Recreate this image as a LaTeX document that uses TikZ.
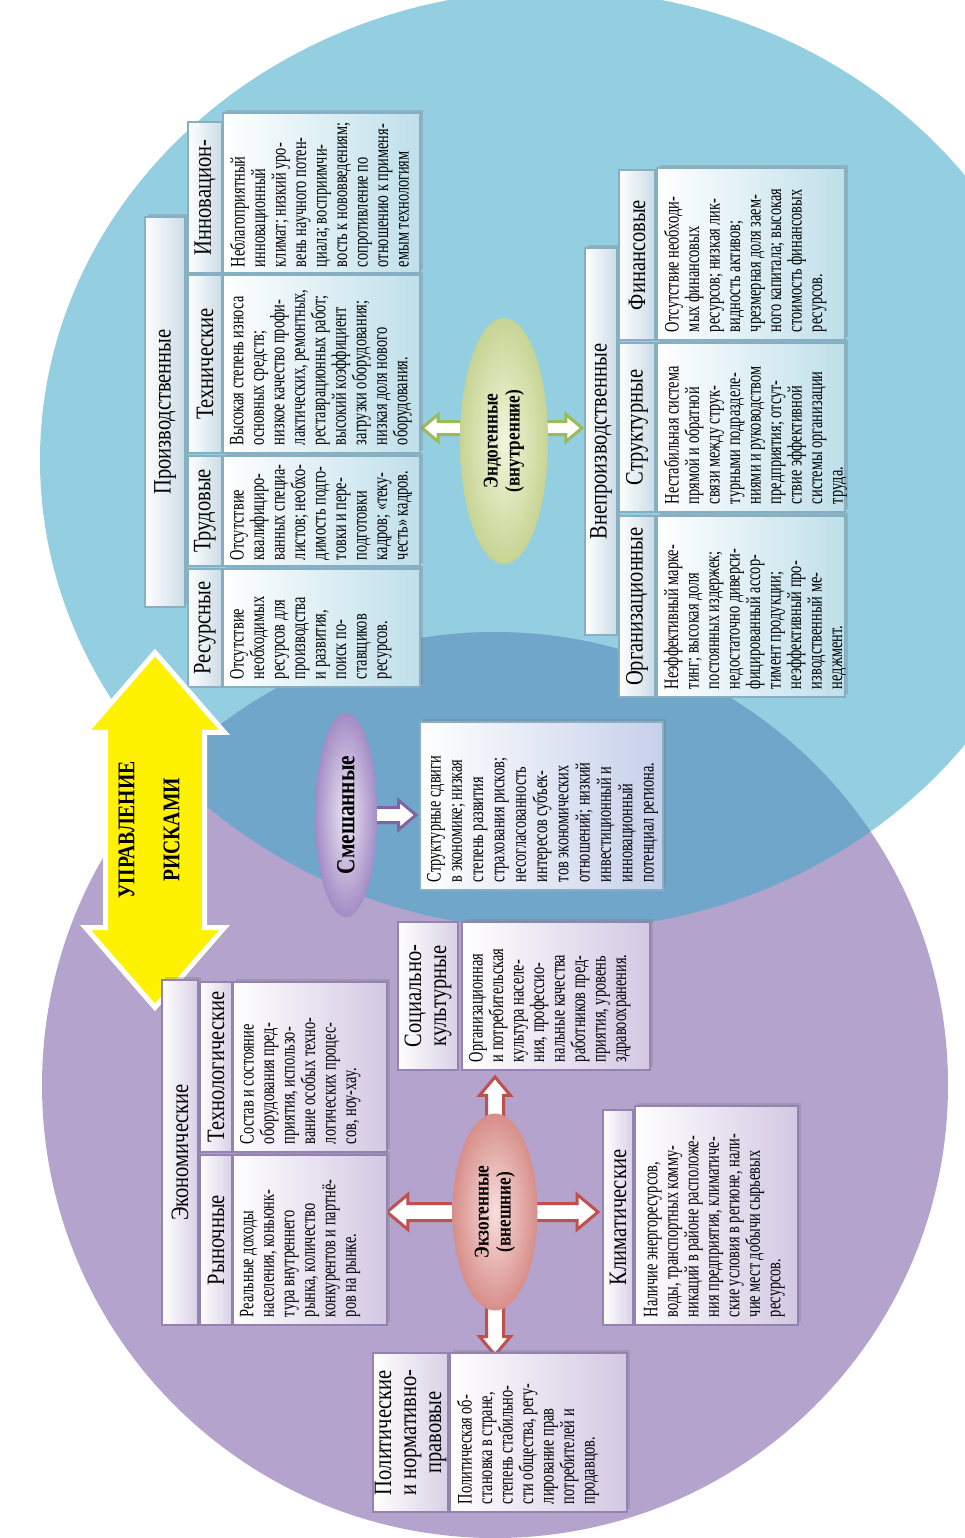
\documentclass[tikz,border=0pt]{standalone}
\usepackage{fontspec}
\setmainfont{Liberation Serif}[FakeStretch=0.82]
\newfontfamily\bodyfont{Liberation Serif}[FakeStretch=0.70]
\usetikzlibrary{shapes.geometric,shapes.arrows,shadows}
\pgfdeclarelayer{back}
\pgfdeclarelayer{arrows}
\pgfsetlayers{back,arrows,main}
\definecolor{bluebg}{HTML}{93CFE0}
\definecolor{purbg}{HTML}{B4A3CC}
\definecolor{mixbg}{HTML}{6FA6CA}
\definecolor{bodyb}{HTML}{BFDFEA}
\definecolor{headb}{HTML}{CBDCE6}
\definecolor{edgeb}{HTML}{86AFC4}
\definecolor{bodyp}{HTML}{D3C8E3}
\definecolor{headp}{HTML}{D9D0E6}
\definecolor{edgep}{HTML}{9482B0}
\definecolor{boxmix}{HTML}{C6D0EA}
\definecolor{endoin}{HTML}{F2F5DC}
\definecolor{endoout}{HTML}{C6D493}
\definecolor{mixin}{HTML}{EEE7F5}
\definecolor{mixout}{HTML}{A38CC5}
\definecolor{exoin}{HTML}{F8DEDC}
\definecolor{exoout}{HTML}{D78E8A}
\definecolor{olive}{HTML}{9BBB59}
\definecolor{brick}{HTML}{C0504D}
\definecolor{violet}{HTML}{8064A2}
\begin{document}
\begin{tikzpicture}[x=1pt,y=-1pt,
    every node/.style={inner sep=0pt,outer sep=0pt},
    cellb/.style={rectangle,draw=edgeb,line width=1.2pt,left color=white,right color=bodyb},
    hdrb/.style={rectangle,draw=edgeb,line width=1.2pt,left color=white,right color=headb},
    cellp/.style={rectangle,draw=edgep,line width=1.2pt,left color=white,right color=bodyp},
    hdrp/.style={rectangle,draw=edgep,line width=1.2pt,left color=white,right color=headp},
    shad/.style={drop shadow={shadow xshift=3pt,shadow yshift=3pt,opacity=.35}},
    btxt/.style={rotate=90,anchor=north west,align=left,font=\bodyfont\fontsize{20.5}{20.5}\selectfont},
    htxt/.style={rotate=90,align=center,font=\fontsize{25}{25}\selectfont},
    oval/.style={ellipse,rotate=90,align=center,font=\bfseries\fontsize{21}{22}\selectfont},
    blk/.style={single arrow,fill=white,draw=#1,line width=3pt,single arrow tip angle=80,anchor=tail}]
  \useasboundingbox (0,0) rectangle (965,1538);
  % two circles and their common part
  \begin{pgfonlayer}{back}
    \fill[white] (0,0) rectangle (965,1538);
    \fill[bluebg] (555,460) ellipse[x radius=515pt,y radius=470pt];
    \fill[purbg] (495,1085) circle[radius=453pt];
    \begin{scope}
      \clip (555,460) ellipse[x radius=515pt,y radius=470pt];
      \fill[mixbg] (495,1085) circle[radius=453pt];
    \end{scope}
  \end{pgfonlayer}

  % production risks
  \node[hdrb,shad,minimum width=40pt,minimum height=390pt] (sprod) at (165,412) {};
  \node[htxt] (tprod) at (sprod) {Производственные};
  \node[hdrb,minimum width=34pt,minimum height=118pt] (hres) at (205,628) {};
  \node[cellb,shad,minimum width=197pt,minimum height=118pt] (cres) at (321.5,628) {};
  \node[htxt] (thres) at (hres) {Ресурсные};
  \node[btxt] (tres) at ([xshift=7pt,yshift=8pt]cres.south west) {Отсутствие\\ необходимых\\ ресурсов для\\ производства\\ и развития,\\ поиск по-\\ ставщиков\\ ресурсов.};
  \node[hdrb,minimum width=34pt,minimum height=110pt] (htru) at (205,511) {};
  \node[cellb,shad,minimum width=197pt,minimum height=110pt] (ctru) at (321.5,511) {};
  \node[htxt] (thtru) at (htru) {Трудовые};
  \node[btxt] (ttru) at ([xshift=7pt,yshift=6pt]ctru.south west) {Отсутствие\\ квалифициро-\\ ванных специа-\\ листов; необхо-\\ димость подго-\\ товки и пере-\\ подготовки\\ кадров; «теку-\\ честь» кадров.};
  \node[hdrb,minimum width=34pt,minimum height=178pt] (htec) at (205,364) {};
  \node[cellb,shad,minimum width=197pt,minimum height=178pt] (ctec) at (321.5,364) {};
  \node[htxt] (thtec) at (htec) {Технические};
  \node[btxt] (ttec) at ([xshift=7pt,yshift=8pt]ctec.south west) {Высокая степень износа\\ основных средств;\\ низкое качество профи-\\ лактических, ремонтных,\\ реставрационных работ;\\ высокий коэффициент\\ загрузки оборудования;\\ низкая доля нового\\ оборудования.};
  \node[hdrb,minimum width=34pt,minimum height=151pt] (hinn) at (205,197.5) {};
  \node[cellb,shad,minimum width=197pt,minimum height=160pt] (cinn) at (321.5,193) {};
  \node[htxt] (thinn) at (hinn) {Инновацион-};
  \node[btxt] (tinn) at ([xshift=7pt,yshift=6pt]cinn.south west) {Неблагоприятный\\ инновационный\\ климат; низкий уро-\\ вень научного потен-\\ циала; восприимчи-\\ вость к нововведениям;\\ сопротивление по\\ отношению к применя-\\ емым технологиям};

  % non-production risks
  \node[hdrb,shad,minimum width=32pt,minimum height=387pt] (snon) at (601,441.5) {};
  \node[htxt] (tnon) at (snon) {Внепроизводственные};
  \node[hdrb,minimum width=36pt,minimum height=181pt] (horg) at (637,606.5) {};
  \node[cellb,shad,minimum width=188pt,minimum height=181pt] (corg) at (751,606.5) {};
  \node[htxt] (thorg) at (horg) {Организационные};
  \node[btxt] (torg) at ([xshift=7pt,yshift=8pt]corg.south west) {Неэффективный марке-\\ тинг; высокая доля\\ постоянных издержек;\\ недостаточно диверси-\\ фицированный ассор-\\ тимент продукции;\\ неэффективный про-\\ изводственный ме-\\ неджмент.};
  \node[hdrb,minimum width=36pt,minimum height=169pt] (hstr) at (637,427.5) {};
  \node[cellb,shad,minimum width=188pt,minimum height=169pt] (cstr) at (751,427.5) {};
  \node[htxt] (thstr) at (hstr) {Структурные};
  \node[btxt] (tstr) at ([xshift=7pt,yshift=8pt]cstr.south west) {Нестабильная система\\ прямой и обратной\\ связи между струк-\\ турными подразделе-\\ ниями и руководством\\ предприятия; отсут-\\ ствие эффективной\\ системы организации\\ труда.};
  \node[hdrb,minimum width=36pt,minimum height=170pt] (hfin) at (637,255) {};
  \node[cellb,shad,minimum width=188pt,minimum height=172pt] (cfin) at (751,254) {};
  \node[htxt] (thfin) at (hfin) {Финансовые};
  \node[btxt] (tfin) at ([xshift=7pt,yshift=8pt]cfin.south west) {Отсутствие необходи-\\ мых финансовых\\ ресурсов; низкая лик-\\ видность активов;\\ чрезмерная доля заем-\\ ного капитала; высокая\\ стоимость финансовых\\ ресурсов.};

  \node[oval,inner color=endoin,outer color=endoout,minimum width=246pt,minimum height=88pt] (endo) at (504,441) {Эндогенные\\(внутренние)};

  % mixed risks
  \node[oval,inner color=mixin,outer color=mixout,minimum width=204pt,minimum height=62pt,font=\bfseries\fontsize{26}{26}\selectfont] (smesh) at (346,815) {Смешанные};
  \node[rectangle,draw=edgeb,line width=1.2pt,left color=white,right color=boxmix,shad,minimum width=243pt,minimum height=168pt] (cmix) at (541.5,806) {};
  \node[btxt,font=\bodyfont\fontsize{20.5}{21.3}\selectfont] (tmix) at ([xshift=7pt,yshift=8pt]cmix.south west) {Структурные сдвиги\\ в экономике; низкая\\ степень развития\\ страхования рисков;\\ несогласованность\\ интересов субъек-\\ тов экономических\\ отношений; низкий\\ инвестиционный и\\ инновационный\\ потенциал региона.};

  % risk management
  \node[double arrow,fill=yellow,draw=white,line width=5pt,inner ysep=47pt,double arrow head extend=20pt,double arrow tip angle=82,minimum height=355pt,rotate=90,drop shadow={opacity=.3}] (manage) at (155,830) {};
  \node[rotate=90,align=center,font=\bfseries\fontsize{24}{45}\selectfont] (tman) at ([xshift=-6pt]manage.center) {УПРАВЛЕНИЕ\\РИСКАМИ};

  % economic risks
  \node[hdrp,shad,minimum width=36pt,minimum height=345pt] (secon) at (180,1152.5) {};
  \node[htxt] (tecon) at (secon) {Экономические};
  \node[hdrp,minimum width=32pt,minimum height=170pt] (hryn) at (216,1240) {};
  \node[cellp,shad,minimum width=154pt,minimum height=170pt] (cryn) at (310,1240) {};
  \node[htxt] (thryn) at (hryn) {Рыночные};
  \node[btxt] (tryn) at ([xshift=7pt,yshift=8pt]cryn.south west) {Реальные доходы\\ населения, коньюнк-\\ тура внутреннего\\ рынка, количество\\ конкурентов и партнё-\\ ров на рынке.};
  \node[hdrp,minimum width=32pt,minimum height=170pt] (htcl) at (216,1067) {};
  \node[cellp,shad,minimum width=154pt,minimum height=170pt] (ctcl) at (310,1067) {};
  \node[htxt] (thtcl) at (htcl) {Технологические};
  \node[btxt] (ttcl) at ([xshift=7pt,yshift=8pt]ctcl.south west) {Состав и состояние\\ оборудования пред-\\ приятия, использо-\\ вание особых техно-\\ логических процес-\\ сов, ноу-хау.};

  \node[hdrp,minimum width=60pt,minimum height=148pt] (hsoc) at (428,996) {};
  \node[cellp,shad,minimum width=188pt,minimum height=148pt] (csoc) at (556,996) {};
  \node[htxt] (thsoc) at (hsoc) {Социально-\\культурные};
  \node[btxt] (tsoc) at ([xshift=7pt,yshift=8pt]csoc.south west) {Организационная\\ и потребительская\\ культура населе-\\ ния, профессио-\\ нальные качества\\ работников пред-\\ приятия, уровень\\ здравоохранения.};

  \node[hdrp,minimum width=30pt,minimum height=215pt] (hcli) at (618,1217.5) {};
  \node[cellp,shad,minimum width=163pt,minimum height=219pt] (ccli) at (716.5,1215.5) {};
  \node[htxt] (thcli) at (hcli) {Климатические};
  \node[btxt] (tcli) at ([xshift=9pt,yshift=8pt]ccli.south west) {Наличие энергоресурсов,\\ воды, транспортных комму-\\ никаций в районе расположе-\\ ния предприятия, климатиче-\\ ские условия в регионе, нали-\\ чие мест добычи сырьевых\\ ресурсов.};

  \node[hdrp,minimum width=75pt,minimum height=159pt] (hpol) at (410.5,1432.5) {};
  \node[cellp,shad,minimum width=177pt,minimum height=159pt] (cpol) at (538.5,1432.5) {};
  \node[htxt] (thpol) at (hpol) {Политические\\и нормативно-\\правовые};
  \node[btxt] (tpol) at ([xshift=7pt,yshift=8pt]cpol.south west) {Политическая об-\\ становка в стране,\\ степень стабильно-\\ сти общества, регу-\\ лирование прав\\ потребителей и\\ продавцов.};

  \node[oval,inner color=exoin,outer color=exoout,minimum width=197pt,minimum height=85pt] (exo) at (495,1212) {Экзогенные\\(внешние)};

  % block arrows behind the ovals
  \begin{pgfonlayer}{arrows}
    \node[blk=olive,rotate=180,minimum height=82pt,inner ysep=5pt,single arrow head extend=7pt] (endoL) at ([yshift=13pt]endo.center) {};
    \node[blk=olive,minimum height=78pt,inner ysep=5pt,single arrow head extend=7pt] (endoR) at ([yshift=13pt]endo.center) {};
    \node[blk=violet,minimum height=70pt,inner ysep=6pt,single arrow head extend=7pt] (mixR) at (smesh.center) {};
    \node[blk=brick,rotate=90,minimum height=135pt,inner ysep=7pt,single arrow head extend=7pt] (exoU) at (exo.center) {};
    \node[blk=brick,rotate=-90,minimum height=143pt,inner ysep=7pt,single arrow head extend=7pt] (exoD) at (exo.center) {};
    \node[blk=brick,rotate=180,minimum height=108pt,inner ysep=7pt,single arrow head extend=9pt] (exoL) at (exo.center) {};
    \node[blk=brick,minimum height=103pt,inner ysep=7pt,single arrow head extend=9pt] (exoR) at (exo.center) {};
  \end{pgfonlayer}
\end{tikzpicture}
\end{document}
